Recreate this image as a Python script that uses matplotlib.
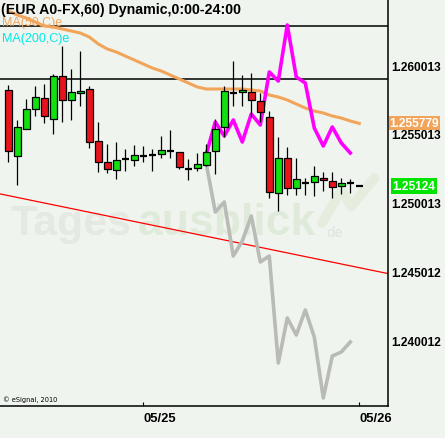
import numpy as np
import matplotlib
matplotlib.use('Agg')
import matplotlib.pyplot as plt

# hourly EUR candles, 05/24 09:00 .. 05/26 00:00
opens = [1.258181, 1.253439, 1.255397, 1.256803, 1.257601, 1.256078, 1.259196, 1.257456, 1.257963, 1.258253,
         1.254483, 1.252961, 1.252381, 1.253178, 1.253106, 1.253432, 1.253504, 1.253541, 1.253758, 1.253686,
         1.252453, 1.252526, 1.252729, 1.253758, 1.255542, 1.257963, 1.258036, 1.258036, 1.257383, 1.256223,
         1.250713, 1.253251, 1.251076, 1.251482, 1.251511, 1.251800, 1.251583, 1.251242, 1.251438, 1.251240]
highs = [1.258565, 1.256027, 1.257528, 1.258471, 1.258616, 1.259341, 1.261392, 1.259725, 1.261030, 1.258471,
         1.255882, 1.254266, 1.254411, 1.253925, 1.254193, 1.254121, 1.253903, 1.254846, 1.255324, 1.253710,
         1.253178, 1.253613, 1.254266, 1.256078, 1.258471, 1.260305, 1.259268, 1.259413, 1.257985, 1.256658,
         1.254773, 1.254048, 1.253251, 1.251822, 1.252692, 1.252236, 1.252236, 1.251800, 1.251728, 1.251240]
lows = [1.253004, 1.251315, 1.255339, 1.256339, 1.255788, 1.255034, 1.255861, 1.256049, 1.257064, 1.254019,
        1.252279, 1.252163, 1.251728, 1.252308, 1.252671, 1.252961, 1.252308, 1.253294, 1.253251, 1.252453,
        1.251656, 1.252308, 1.252692, 1.252112, 1.254773, 1.257064, 1.257064, 1.256223, 1.255861, 1.250372,
        1.249452, 1.250612, 1.250612, 1.250612, 1.250539, 1.250902, 1.250351, 1.250684, 1.250713, 1.251240]
closes = [1.253758, 1.255498, 1.256803, 1.257673, 1.256296, 1.259196, 1.257456, 1.258036, 1.258130, 1.254411,
          1.252961, 1.252453, 1.253106, 1.253178, 1.253468, 1.253432, 1.253504, 1.253831, 1.253758, 1.252598,
          1.252453, 1.252816, 1.253686, 1.255353, 1.258108, 1.257963, 1.258181, 1.257456, 1.256586, 1.250786,
          1.253251, 1.251076, 1.251728, 1.251482, 1.251946, 1.251656, 1.251148, 1.251438, 1.251438, 1.251240]

ma50 = [1.263930, 1.263640, 1.263422, 1.263132, 1.262842, 1.262770, 1.262625, 1.262480, 1.262335, 1.262045,
        1.261537, 1.261175, 1.260957, 1.260667, 1.260377, 1.260087, 1.259797, 1.259580, 1.259290, 1.259000,
        1.258710, 1.258420, 1.258275, 1.258275, 1.258275, 1.258275, 1.258275, 1.258202, 1.258130, 1.257840,
        1.257695, 1.257477, 1.257187, 1.256897, 1.256680, 1.256535, 1.256317, 1.256172, 1.255955, 1.255779]

# overlay paths start at candle 22
overlay_start = 22
magenta_vals = [1.253562, 1.255882, 1.254867, 1.256027, 1.254432, 1.256462, 1.255665, 1.259507, 1.258855,
                1.262915, 1.259145, 1.258710, 1.255447, 1.254142, 1.255520, 1.254360, 1.253635]
gray_vals = [1.252837, 1.249357, 1.250082, 1.246167, 1.247255, 1.249067, 1.245732, 1.246167, 1.238410,
             1.241672, 1.240440, 1.242252, 1.240295, 1.235872, 1.238917, 1.239207, 1.239932]

trend_pts = [(0, 1.250546), (39, 1.245320)]
levels = [1.262842, 1.259000]

ytick_vals = [1.240012, 1.245012, 1.250013, 1.255013, 1.260013]
xtick_pos = [15, 39]
xtick_labels = ['05/25', '05/26']

bg = '#eff5ee'
green = '#11e011'
red = '#e8141c'
orange = '#f2a55a'

fig = plt.figure(figsize=(4.45, 4.39), dpi=100, facecolor=bg)
ax = fig.add_axes([0, 32 / 439, 388 / 445, 407 / 439])
ax.set_facecolor(bg)
ax.set_xlim(-0.922, 42.19)
ax.set_ylim(1.235292, 1.26480)

# watermark
ax.text(0.026, 0.422, 'Tages', transform=ax.transAxes, fontsize=31, fontweight='bold',
        family='Liberation Sans', color='#e4e9e2', va='baseline', zorder=0)
ax.text(0.355, 0.422, 'ausblick', transform=ax.transAxes, fontsize=32, fontweight='bold',
        family='Liberation Sans', color='#e0eada', va='baseline', zorder=0)
ax.text(0.842, 0.418, 'de', transform=ax.transAxes, fontsize=10, fontweight='bold',
        family='Liberation Sans', color='#e2e8e0', va='baseline', zorder=0)
ax.plot([0.83, 0.88, 0.905, 0.965], [0.45, 0.53, 0.49, 0.56], transform=ax.transAxes,
        color='#e5eddf', lw=7, solid_capstyle='round', zorder=0)

x = np.arange(len(opens))

ax.axline(trend_pts[0], trend_pts[1], color='#ff0000', lw=0.9, zorder=1)
for lv in levels:
    ax.axhline(lv, color='black', lw=1.1, zorder=1)

ax.plot(x, ma50, color=orange, lw=2.2, zorder=2)
xo = np.arange(overlay_start, overlay_start + len(gray_vals))
ax.plot(xo, gray_vals, color='#b9bbb6', lw=2.6, zorder=2)
ax.plot(xo, magenta_vals, color='#ff00ff', lw=2.6, zorder=2)

# candles
w = 0.72
ax.vlines(x, lows, highs, color='black', lw=0.9, zorder=3)
for i in range(len(opens)):
    o, c = opens[i], closes[i]
    if c == o:
        ax.hlines(o, i - w / 2, i + w / 2, color='black', lw=1.6, zorder=4)
    else:
        col = green if c > o else red
        ax.bar(i, abs(c - o), bottom=min(o, c), width=w, color=col,
               edgecolor='black', linewidth=0.9, zorder=4)

for s in ['top', 'left']:
    ax.spines[s].set_visible(False)
ax.spines['right'].set_linewidth(1.1)
ax.spines['bottom'].set_linewidth(1.1)

ax.yaxis.tick_right()
ax.set_yticks(ytick_vals)
ax.set_yticklabels(['%.6f' % v for v in ytick_vals], family='Liberation Sans',
                   fontweight='bold', fontsize=8.6)
ax.tick_params(axis='y', length=0, pad=2)
ax.set_xticks(xtick_pos)
ax.set_xticklabels(xtick_labels, family='Liberation Sans', fontweight='bold',
                   fontsize=9.4, ha='left')
ax.tick_params(axis='x', length=3, direction='in', pad=4)

# last value boxes on the price axis
ax.text(1.004, ma50[-1], '%.6f' % ma50[-1], transform=ax.get_yaxis_transform(),
        ha='left', va='center', color='white', fontsize=8.6, fontweight='bold',
        family='Liberation Sans', clip_on=False,
        bbox=dict(boxstyle='square,pad=0.08', fc=orange, ec='none'), zorder=6)
ax.text(1.012, closes[-1], '%.5f' % closes[-1], transform=ax.get_yaxis_transform(),
        ha='left', va='center', color='white', fontsize=8.6, fontweight='bold',
        family='Liberation Sans', clip_on=False,
        bbox=dict(boxstyle='square,pad=0.15', fc='#00e400', ec='none'), zorder=6)

# header texts
fig.text(0.002, 1 - 10 / 439, '(EUR A0-FX,60) Dynamic,0:00-24:00', family='Liberation Sans',
         fontweight='bold', fontsize=10.2, va='center', ha='left')
fig.text(0.004, 1 - 23 / 439, 'MA(50,C)e', family='Liberation Sans', fontsize=9,
         color=orange, va='center', ha='left')
fig.text(0.004, 1 - 39 / 439, 'MA(200,C)e', family='Liberation Sans', fontsize=9,
         color='#00e8e8', va='center', ha='left')
fig.text(0.007, 1 - 400 / 439, '\u00a9 eSignal, 2010', family='DejaVu Sans', fontsize=4.8,
         va='center', ha='left')

fig.savefig('out.png', dpi=100, facecolor=bg)
